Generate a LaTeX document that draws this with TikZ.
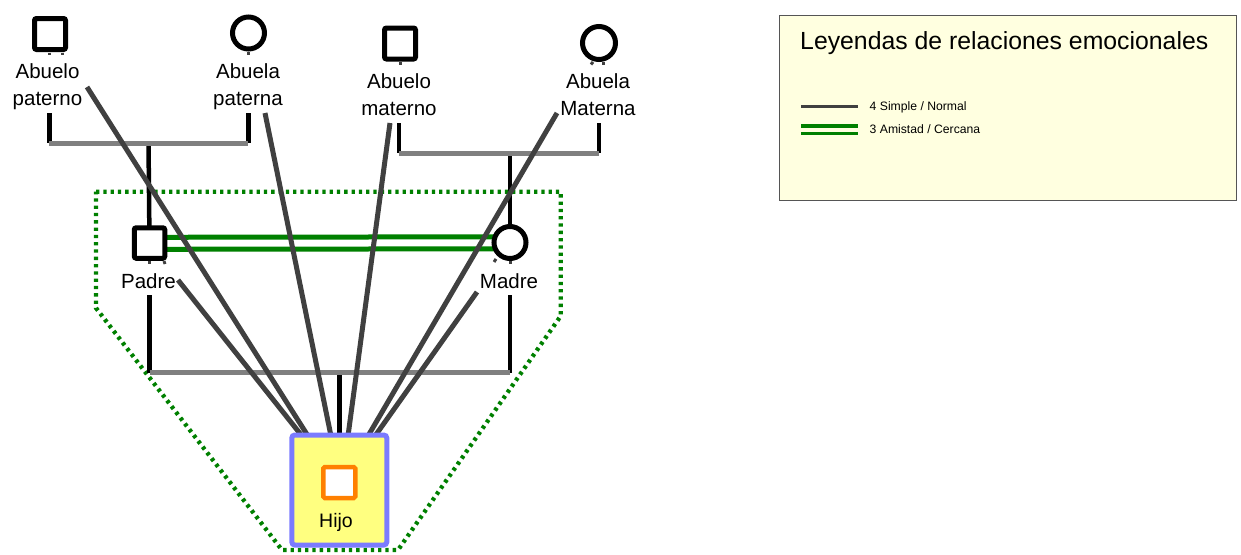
\documentclass[tikz,border=0pt]{standalone}
\usepackage{fontspec}
\setmainfont{Liberation Sans}
\usetikzlibrary{calc,backgrounds}

\definecolor{emoline}{HTML}{404040}
\definecolor{uniongray}{HTML}{808080}
\definecolor{closegreen}{HTML}{008000}
\definecolor{hijoborder}{HTML}{7B7BFF}
\definecolor{hijofill}{HTML}{FFFF80}
\definecolor{hijoorange}{HTML}{FF8000}
\definecolor{legendfill}{HTML}{FFFFE0}
\definecolor{legendborder}{HTML}{555555}

\begin{document}
\begin{tikzpicture}[x=1pt,y=-1pt,
  male/.style={rectangle, draw=black, fill=white, line width=5pt, rounded corners=2pt,
               minimum size=31pt, inner sep=0pt},
  female/.style={circle, draw=black, fill=white, line width=5pt,
                 minimum size=32pt, inner sep=0pt},
  lbl/.style={font=\fontsize{20.5}{27}\selectfont, align=center, inner sep=0pt, anchor=north},
  kin/.style={line width=4.5pt, draw=black},
  union/.style={line width=5pt, draw=uniongray},
  emo/.style={line width=5pt, draw=emoline},
  closeline/.style={line width=5pt, draw=closegreen},
  household/.style={draw=closegreen, line width=4.3pt, dash pattern=on 3.3pt off 4pt},
  stub/.style={line width=3pt, draw=emoline},
  legtext/.style={font=\fontsize{12.2}{14}\selectfont, inner sep=0pt, anchor=base west}
]
\useasboundingbox (0,0) rectangle (1241,554);

% ---- people ----
\node[male]   (ap)  at (50,34)     {};
\node[female] (apa) at (248.5,33)  {};
\node[male]   (am)  at (400,43.5)  {};
\node[female, minimum size=33pt] (ama) at (599,43) {};
\node[male, minimum size=30.5pt] (pa) at (149.5,243) {};
\node[female] (ma)  at (510,242.5) {};

\node[lbl] (apL)  at (47.5,63)   {Abuelo\\paterno};
\node[lbl] (apaL) at (248,63)    {Abuela\\paterna};
\node[lbl] (amL)  at (399,73.3)  {Abuelo\\materno};
\node[lbl] (amaL) at (598,73.3)  {Abuela\\Materna};
\node[lbl] (paL)  at (148.5,273.3) {Padre};
\node[lbl] (maL)  at (509,273.3) {Madre};

% index person
\node[rectangle, draw=hijoborder, fill=hijofill, line width=5pt, rounded corners=3pt,
      minimum width=95pt, minimum height=110pt, inner sep=0pt] (hijo) at (339.3,490) {};
\node[rectangle, draw=hijoorange, fill=white, line width=4.5pt, rounded corners=1.5pt,
      minimum width=32pt, minimum height=31pt, inner sep=0pt] (hs) at (339.3,482.5) {};
\node[lbl, font=\fontsize{19.5}{24}\selectfont] (hijoL) at (336,513.3) {Hijo};

% small stubs under the symbols
\draw[stub] (49.7,52.5) -- (49.7,55);
\draw[stub] (62,52.5) -- (62,55);
\draw[stub] (248.5,51.5) -- (248.5,54.5);
\draw[stub] (400,62) -- (400,64.5);
\draw[stub] (593,62) -- (591,64.5);
\draw[stub] (603,62) -- (603,64.5);
\draw[stub] (149.5,261) -- (149.5,264);
\draw[stub] (164,261) -- (165,264);
\draw[stub] (496,259) -- (494,262);
\draw[stub] (510,261) -- (510,264);

% ---- connection points ----
\coordinate (apDown)  at (49.3,113);
\coordinate (apaDown) at (248.3,113);
\coordinate (pUnionL) at (49.3,143);
\coordinate (pUnionR) at (248.3,143);
\coordinate (pUnionC) at (148.5,143);
\coordinate (amDown)  at (399,123);
\coordinate (amaDown) at (599,123);
\coordinate (mUnionL) at (399,153);
\coordinate (mUnionR) at (599,153);
\coordinate (mUnionC) at (510,153);
\coordinate (paDown)  at (149.5,295);
\coordinate (maDown)  at (510,295);
\coordinate (cUnionL) at (149.5,372.7);
\coordinate (cUnionR) at (510,372.7);
\coordinate (cUnionC) at (339.3,372.7);

\coordinate (apE)  at (87,87);
\coordinate (apaE) at (265,113);
\coordinate (amE)  at (390,123);
\coordinate (amaE) at (557,113);
\coordinate (paE)  at (178,280);
\coordinate (maE)  at (477,292);
\coordinate (h1) at (308,436);
\coordinate (h2) at (331,436);
\coordinate (h3) at (348,436);
\coordinate (h4) at (368,436);
\coordinate (h5) at (302,436);
\coordinate (h6) at (375,436);

\begin{scope}[on background layer]
  % household boundary
  \draw[household] (96,191.7) -- (560.7,191.7) -- (560.7,316) -- (398,550)
        -- (282,550) -- (96,308) -- cycle;
  % kinship lines
  \draw[kin] (apDown) -- (pUnionL);
  \draw[kin] (apaDown) -- (pUnionR);
  \draw[kin] (pUnionC) -- (pa.center);
  \draw[kin] (amDown) -- (mUnionL);
  \draw[kin] (amaDown) -- (mUnionR);
  \draw[kin] (mUnionC) -- (ma.center);
  \draw[kin] (paDown) -- (cUnionL);
  \draw[kin] (maDown) -- (cUnionR);
  \draw[kin] (cUnionC) -- (hijo.center);
  \draw[union] (pUnionL) -- (pUnionR);
  \draw[union] (mUnionL) -- (mUnionR);
  \draw[union] (cUnionL) -- (cUnionR);
  % close relationship between the parents
  \draw[closeline] ($(pa.center)+(0,-5.7)$) -- ($(ma.center)+(0,-5.7)$);
  \draw[closeline] ($(pa.center)+(0,6.3)$) -- ($(ma.center)+(0,6.3)$);
  % emotional relations towards the child
  \draw[emo] (apE) -- (h1);
  \draw[emo] (apaE) -- (h2);
  \draw[emo] (amE) -- (h3);
  \draw[emo] (amaE) -- (h4);
  \draw[emo] (paE) -- (h5);
  \draw[emo] (maE) -- (h6);
\end{scope}

% ---- legend ----
\node[rectangle, draw=legendborder, fill=legendfill, line width=1.3pt, anchor=north west,
      minimum width=457pt, minimum height=185pt, inner sep=0pt] (leg) at (778.5,14.5) {};
\node[font=\fontsize{24.8}{28}\selectfont, inner sep=0pt, anchor=north west] (legT)
      at (800,31.5) {Leyendas de relaciones emocionales};
\coordinate (l1a) at (801,106.7);
\coordinate (l1b) at (858,106.7);
\coordinate (l2a) at (801,126);
\coordinate (l2b) at (858,126);
\coordinate (l3a) at (801,133.3);
\coordinate (l3b) at (858,133.3);
\draw[line width=3.3pt, draw=emoline] (l1a) -- (l1b);
\draw[line width=3.3pt, draw=closegreen] (l2a) -- (l2b);
\draw[line width=3.3pt, draw=closegreen] (l3a) -- (l3b);
\node[legtext] (leg1) at (869.5,110.7) {4 Simple / Normal};
\node[legtext] (leg2) at (869.5,133.2) {3 Amistad / Cercana};
\end{tikzpicture}
\end{document}
